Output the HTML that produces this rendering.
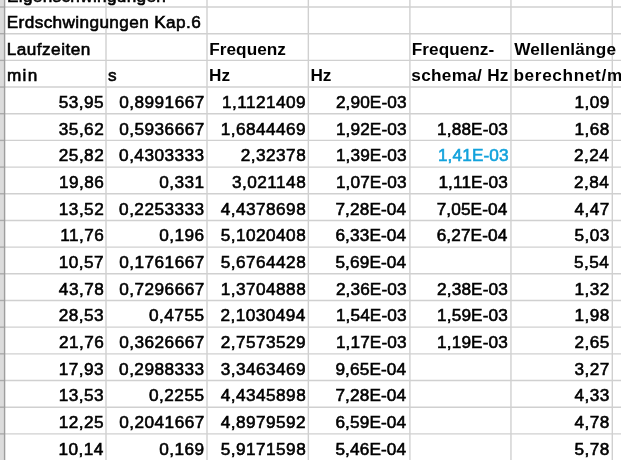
<!DOCTYPE html>
<html><head><meta charset="utf-8"><style>
html,body{margin:0;padding:0;background:#fff;width:621px;height:460px;overflow:hidden;}
body{position:relative;filter:blur(0.30px);font-family:"Liberation Sans",sans-serif;color:#000;}
.t{position:absolute;white-space:nowrap;-webkit-text-stroke:0.60px currentColor;line-height:20px;height:20px;font-size:17.20px;}
.b{font-weight:bold;-webkit-text-stroke:0;font-size:17.20px;}
.r{text-align:right;}
svg{position:absolute;left:0;top:0;}
</style></head><body>
<svg width="621" height="460" viewBox="0 0 621 460">
<rect x="0" y="0" width="4.60" height="460" fill="#dcdcdc"/>
<line x1="4.60" y1="7.00" x2="621" y2="7.00" stroke="#d0d0d0" stroke-width="1.40"/>
<line x1="0" y1="7.00" x2="4.60" y2="7.00" stroke="#ababab" stroke-width="1.40"/>
<line x1="4.60" y1="33.68" x2="621" y2="33.68" stroke="#d0d0d0" stroke-width="1.40"/>
<line x1="0" y1="33.68" x2="4.60" y2="33.68" stroke="#ababab" stroke-width="1.40"/>
<line x1="4.60" y1="60.36" x2="621" y2="60.36" stroke="#d0d0d0" stroke-width="1.40"/>
<line x1="0" y1="60.36" x2="4.60" y2="60.36" stroke="#ababab" stroke-width="1.40"/>
<line x1="4.60" y1="87.04" x2="621" y2="87.04" stroke="#d0d0d0" stroke-width="1.40"/>
<line x1="0" y1="87.04" x2="4.60" y2="87.04" stroke="#ababab" stroke-width="1.40"/>
<line x1="4.60" y1="113.72" x2="621" y2="113.72" stroke="#d0d0d0" stroke-width="1.40"/>
<line x1="0" y1="113.72" x2="4.60" y2="113.72" stroke="#ababab" stroke-width="1.40"/>
<line x1="4.60" y1="140.40" x2="621" y2="140.40" stroke="#d0d0d0" stroke-width="1.40"/>
<line x1="0" y1="140.40" x2="4.60" y2="140.40" stroke="#ababab" stroke-width="1.40"/>
<line x1="4.60" y1="167.08" x2="621" y2="167.08" stroke="#d0d0d0" stroke-width="1.40"/>
<line x1="0" y1="167.08" x2="4.60" y2="167.08" stroke="#ababab" stroke-width="1.40"/>
<line x1="4.60" y1="193.76" x2="621" y2="193.76" stroke="#d0d0d0" stroke-width="1.40"/>
<line x1="0" y1="193.76" x2="4.60" y2="193.76" stroke="#ababab" stroke-width="1.40"/>
<line x1="4.60" y1="220.44" x2="621" y2="220.44" stroke="#d0d0d0" stroke-width="1.40"/>
<line x1="0" y1="220.44" x2="4.60" y2="220.44" stroke="#ababab" stroke-width="1.40"/>
<line x1="4.60" y1="247.12" x2="621" y2="247.12" stroke="#d0d0d0" stroke-width="1.40"/>
<line x1="0" y1="247.12" x2="4.60" y2="247.12" stroke="#ababab" stroke-width="1.40"/>
<line x1="4.60" y1="273.80" x2="621" y2="273.80" stroke="#d0d0d0" stroke-width="1.40"/>
<line x1="0" y1="273.80" x2="4.60" y2="273.80" stroke="#ababab" stroke-width="1.40"/>
<line x1="4.60" y1="300.48" x2="621" y2="300.48" stroke="#d0d0d0" stroke-width="1.40"/>
<line x1="0" y1="300.48" x2="4.60" y2="300.48" stroke="#ababab" stroke-width="1.40"/>
<line x1="4.60" y1="327.16" x2="621" y2="327.16" stroke="#d0d0d0" stroke-width="1.40"/>
<line x1="0" y1="327.16" x2="4.60" y2="327.16" stroke="#ababab" stroke-width="1.40"/>
<line x1="4.60" y1="353.84" x2="621" y2="353.84" stroke="#d0d0d0" stroke-width="1.40"/>
<line x1="0" y1="353.84" x2="4.60" y2="353.84" stroke="#ababab" stroke-width="1.40"/>
<line x1="4.60" y1="380.52" x2="621" y2="380.52" stroke="#d0d0d0" stroke-width="1.40"/>
<line x1="0" y1="380.52" x2="4.60" y2="380.52" stroke="#ababab" stroke-width="1.40"/>
<line x1="4.60" y1="407.20" x2="621" y2="407.20" stroke="#d0d0d0" stroke-width="1.40"/>
<line x1="0" y1="407.20" x2="4.60" y2="407.20" stroke="#ababab" stroke-width="1.40"/>
<line x1="4.60" y1="433.88" x2="621" y2="433.88" stroke="#d0d0d0" stroke-width="1.40"/>
<line x1="0" y1="433.88" x2="4.60" y2="433.88" stroke="#ababab" stroke-width="1.40"/>
<line x1="106.00" y1="0" x2="106.00" y2="460" stroke="#d0d0d0" stroke-width="1.40"/>
<line x1="207.00" y1="0" x2="207.00" y2="460" stroke="#d0d0d0" stroke-width="1.40"/>
<line x1="308.35" y1="0" x2="308.35" y2="460" stroke="#d0d0d0" stroke-width="1.40"/>
<line x1="409.90" y1="0" x2="409.90" y2="460" stroke="#d0d0d0" stroke-width="1.40"/>
<line x1="510.96" y1="0" x2="510.96" y2="460" stroke="#d0d0d0" stroke-width="1.40"/>
<line x1="612.30" y1="0" x2="612.30" y2="460" stroke="#d0d0d0" stroke-width="1.40"/>
<line x1="4.60" y1="0" x2="4.60" y2="460" stroke="#9e9e9e" stroke-width="1.40"/>
</svg>
<div id="eig" class="t" style="top:-14.18px;left:7.00px;letter-spacing:0.31px;">Eigenschwingungen</div>
<div id="erd" class="t" style="top:11.90px;left:6.78px;letter-spacing:0.38px;">Erdschwingungen Kap.6</div>
<div id="lauf" class="t" style="top:38.58px;left:6.63px;letter-spacing:0.49px;">Laufzeiten</div>
<div id="freqC" class="t b" style="top:38.58px;left:209.24px;letter-spacing:0.04px;">Frequenz</div>
<div id="freqE" class="t b" style="top:38.58px;left:411.85px;letter-spacing:0.02px;">Frequenz-</div>
<div id="well" class="t b" style="top:38.58px;left:514.19px;letter-spacing:0.18px;">Wellenlänge</div>
<div id="min" class="t" style="top:65.26px;left:6.90px;letter-spacing:1.41px;">min</div>
<div id="s" class="t" style="top:65.26px;left:108.08px;">s</div>
<div id="hzC" class="t b" style="top:65.26px;left:209.04px;letter-spacing:-0.02px;">Hz</div>
<div id="hzD" class="t b" style="top:65.26px;left:310.40px;letter-spacing:-0.07px;">Hz</div>
<div id="schema" class="t b" style="top:65.26px;left:411.35px;letter-spacing:0.28px;">schema/ Hz</div>
<div id="ber" class="t b" style="top:65.26px;left:513.47px;letter-spacing:0.65px;">berechnet/m</div>
<div id="n0_0" class="t r" style="top:91.94px;right:516.95px;letter-spacing:0.46px;">53,95</div>
<div id="n0_1" class="t r" style="top:91.94px;right:416.32px;letter-spacing:0.46px;">0,8991667</div>
<div id="n0_2" class="t r" style="top:91.94px;right:314.97px;letter-spacing:0.46px;">1,1121409</div>
<div id="n0_3" class="t r" style="top:91.94px;right:214.32px;letter-spacing:0.13px;">2,90E-03</div>
<div id="n0_5" class="t r" style="top:91.94px;right:11.28px;letter-spacing:0.46px;">1,09</div>
<div id="n1_0" class="t r" style="top:118.62px;right:516.85px;letter-spacing:0.46px;">35,62</div>
<div id="n1_1" class="t r" style="top:118.62px;right:416.32px;letter-spacing:0.46px;">0,5936667</div>
<div id="n1_2" class="t r" style="top:118.62px;right:314.97px;letter-spacing:0.46px;">1,6844469</div>
<div id="n1_3" class="t r" style="top:118.62px;right:214.32px;letter-spacing:0.13px;">1,92E-03</div>
<div id="n1_4" class="t r" style="top:118.62px;right:113.09px;letter-spacing:0.13px;">1,88E-03</div>
<div id="n1_5" class="t r" style="top:118.62px;right:11.26px;letter-spacing:0.46px;">1,68</div>
<div id="n2_0" class="t r" style="top:145.30px;right:516.85px;letter-spacing:0.46px;">25,82</div>
<div id="n2_1" class="t r" style="top:145.30px;right:416.50px;letter-spacing:0.46px;">0,4303333</div>
<div id="n2_2" class="t r" style="top:145.30px;right:314.85px;letter-spacing:0.46px;">2,32378</div>
<div id="n2_3" class="t r" style="top:145.30px;right:214.32px;letter-spacing:0.13px;">1,39E-03</div>
<div id="n2_4" class="t r" style="top:145.30px;right:112.27px;letter-spacing:0.13px;color:#12a2dc;">1,41E-03</div>
<div id="n2_5" class="t r" style="top:145.30px;right:11.65px;letter-spacing:0.46px;">2,24</div>
<div id="n3_0" class="t r" style="top:171.98px;right:516.80px;letter-spacing:0.46px;">19,86</div>
<div id="n3_1" class="t r" style="top:171.98px;right:416.44px;letter-spacing:0.46px;">0,331</div>
<div id="n3_2" class="t r" style="top:171.98px;right:314.85px;letter-spacing:0.46px;">3,021148</div>
<div id="n3_3" class="t r" style="top:171.98px;right:214.32px;letter-spacing:0.13px;">1,07E-03</div>
<div id="n3_4" class="t r" style="top:171.98px;right:113.09px;letter-spacing:0.13px;">1,11E-03</div>
<div id="n3_5" class="t r" style="top:171.98px;right:11.65px;letter-spacing:0.46px;">2,84</div>
<div id="n4_0" class="t r" style="top:198.66px;right:516.85px;letter-spacing:0.46px;">13,52</div>
<div id="n4_1" class="t r" style="top:198.66px;right:416.50px;letter-spacing:0.46px;">0,2253333</div>
<div id="n4_2" class="t r" style="top:198.66px;right:314.85px;letter-spacing:0.46px;">4,4378698</div>
<div id="n4_3" class="t r" style="top:198.66px;right:214.78px;letter-spacing:0.13px;">7,28E-04</div>
<div id="n4_4" class="t r" style="top:198.66px;right:113.56px;letter-spacing:0.13px;">7,05E-04</div>
<div id="n4_5" class="t r" style="top:198.66px;right:11.31px;letter-spacing:0.46px;">4,47</div>
<div id="n5_0" class="t r" style="top:225.34px;right:516.80px;letter-spacing:0.46px;">11,76</div>
<div id="n5_1" class="t r" style="top:225.34px;right:416.38px;letter-spacing:0.46px;">0,196</div>
<div id="n5_2" class="t r" style="top:225.34px;right:314.85px;letter-spacing:0.46px;">5,1020408</div>
<div id="n5_3" class="t r" style="top:225.34px;right:214.78px;letter-spacing:0.13px;">6,33E-04</div>
<div id="n5_4" class="t r" style="top:225.34px;right:113.56px;letter-spacing:0.13px;">6,27E-04</div>
<div id="n5_5" class="t r" style="top:225.34px;right:11.30px;letter-spacing:0.46px;">5,03</div>
<div id="n6_0" class="t r" style="top:252.02px;right:516.89px;letter-spacing:0.46px;">10,57</div>
<div id="n6_1" class="t r" style="top:252.02px;right:416.32px;letter-spacing:0.46px;">0,1761667</div>
<div id="n6_2" class="t r" style="top:252.02px;right:314.85px;letter-spacing:0.46px;">5,6764428</div>
<div id="n6_3" class="t r" style="top:252.02px;right:214.78px;letter-spacing:0.13px;">5,69E-04</div>
<div id="n6_5" class="t r" style="top:252.02px;right:11.65px;letter-spacing:0.46px;">5,54</div>
<div id="n7_0" class="t r" style="top:278.70px;right:516.84px;letter-spacing:0.46px;">43,78</div>
<div id="n7_1" class="t r" style="top:278.70px;right:416.32px;letter-spacing:0.46px;">0,7296667</div>
<div id="n7_2" class="t r" style="top:278.70px;right:314.85px;letter-spacing:0.46px;">1,3704888</div>
<div id="n7_3" class="t r" style="top:278.70px;right:214.32px;letter-spacing:0.13px;">2,36E-03</div>
<div id="n7_4" class="t r" style="top:278.70px;right:113.09px;letter-spacing:0.13px;">2,38E-03</div>
<div id="n7_5" class="t r" style="top:278.70px;right:11.29px;letter-spacing:0.46px;">1,32</div>
<div id="n8_0" class="t r" style="top:305.38px;right:516.95px;letter-spacing:0.46px;">28,53</div>
<div id="n8_1" class="t r" style="top:305.38px;right:416.57px;letter-spacing:0.46px;">0,4755</div>
<div id="n8_2" class="t r" style="top:305.38px;right:315.23px;letter-spacing:0.46px;">2,1030494</div>
<div id="n8_3" class="t r" style="top:305.38px;right:214.32px;letter-spacing:0.13px;">1,54E-03</div>
<div id="n8_4" class="t r" style="top:305.38px;right:113.09px;letter-spacing:0.13px;">1,59E-03</div>
<div id="n8_5" class="t r" style="top:305.38px;right:11.26px;letter-spacing:0.46px;">1,98</div>
<div id="n9_0" class="t r" style="top:332.06px;right:516.80px;letter-spacing:0.46px;">21,76</div>
<div id="n9_1" class="t r" style="top:332.06px;right:416.32px;letter-spacing:0.46px;">0,3626667</div>
<div id="n9_2" class="t r" style="top:332.06px;right:314.97px;letter-spacing:0.46px;">2,7573529</div>
<div id="n9_3" class="t r" style="top:332.06px;right:214.32px;letter-spacing:0.13px;">1,17E-03</div>
<div id="n9_4" class="t r" style="top:332.06px;right:113.09px;letter-spacing:0.13px;">1,19E-03</div>
<div id="n9_5" class="t r" style="top:332.06px;right:11.31px;letter-spacing:0.46px;">2,65</div>
<div id="n10_0" class="t r" style="top:358.74px;right:516.95px;letter-spacing:0.46px;">17,93</div>
<div id="n10_1" class="t r" style="top:358.74px;right:416.50px;letter-spacing:0.46px;">0,2988333</div>
<div id="n10_2" class="t r" style="top:358.74px;right:314.97px;letter-spacing:0.46px;">3,3463469</div>
<div id="n10_3" class="t r" style="top:358.74px;right:214.78px;letter-spacing:0.13px;">9,65E-04</div>
<div id="n10_5" class="t r" style="top:358.74px;right:11.31px;letter-spacing:0.46px;">3,27</div>
<div id="n11_0" class="t r" style="top:385.42px;right:516.95px;letter-spacing:0.46px;">13,53</div>
<div id="n11_1" class="t r" style="top:385.42px;right:416.57px;letter-spacing:0.46px;">0,2255</div>
<div id="n11_2" class="t r" style="top:385.42px;right:314.85px;letter-spacing:0.46px;">4,4345898</div>
<div id="n11_3" class="t r" style="top:385.42px;right:214.78px;letter-spacing:0.13px;">7,28E-04</div>
<div id="n11_5" class="t r" style="top:385.42px;right:11.30px;letter-spacing:0.46px;">4,33</div>
<div id="n12_0" class="t r" style="top:412.10px;right:516.95px;letter-spacing:0.46px;">12,25</div>
<div id="n12_1" class="t r" style="top:412.10px;right:416.32px;letter-spacing:0.46px;">0,2041667</div>
<div id="n12_2" class="t r" style="top:412.10px;right:314.89px;letter-spacing:0.46px;">4,8979592</div>
<div id="n12_3" class="t r" style="top:412.10px;right:214.78px;letter-spacing:0.13px;">6,59E-04</div>
<div id="n12_5" class="t r" style="top:412.10px;right:11.26px;letter-spacing:0.46px;">4,78</div>
<div id="n13_0" class="t r" style="top:438.78px;right:517.22px;letter-spacing:0.46px;">10,14</div>
<div id="n13_1" class="t r" style="top:438.78px;right:416.45px;letter-spacing:0.46px;">0,169</div>
<div id="n13_2" class="t r" style="top:438.78px;right:314.85px;letter-spacing:0.46px;">5,9171598</div>
<div id="n13_3" class="t r" style="top:438.78px;right:214.78px;letter-spacing:0.13px;">5,46E-04</div>
<div id="n13_5" class="t r" style="top:438.78px;right:11.26px;letter-spacing:0.46px;">5,78</div>
</body></html>
